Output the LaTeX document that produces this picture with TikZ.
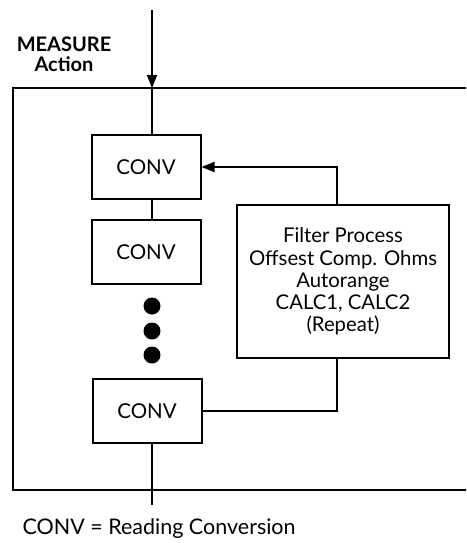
\documentclass[tikz,border=0pt]{standalone}
\usepackage{fontspec}
\setmainfont{Lato}
\usepackage{tikz}
\usetikzlibrary{arrows.meta,positioning,calc}
\tikzstyle{conv} = [draw,line width=2pt,minimum width=109pt,minimum height=64pt,inner sep=0pt,font=\fontsize{20.5}{22}\selectfont]
\tikzstyle{dot} = [fill=black,circle,inner sep=0pt,minimum size=17pt]
\tikzstyle{flow} = [line width=2pt]
\tikzstyle{tip} = [-{Triangle[length=13pt,width=10pt]}]

\begin{document}
\begin{tikzpicture}[x=1pt,y=-1pt]
        \useasboundingbox (0,0) rectangle (466,543);
        \clip (0,0) rectangle (466,543);

        % outer frame (runs off to the right)
        \draw[line width=2.4pt] (476,88) -- (13,88) -- (13,490) -- (476,490);

        \node[conv] (c1) at (146,167) {CONV};
        \node[conv] (c2) at (146,252) {CONV};
        \node[conv] (c3) at (147,411) {CONV};
        \node[draw,line width=2pt,minimum width=212pt,minimum height=153pt,align=center,
              font=\fontsize{20.3}{22.2}\selectfont] (filter) at (343,281.5)
              {Filter Process\\Offsest Comp. Ohms\\Autorange\\CALC1, CALC2\\(Repeat)};

        \node[dot] (d1) at (152,306) {};
        \node[dot] (d2) at (152,331) {};
        \node[dot] (d3) at (152,355) {};

        \coordinate (in) at (152,10);
        \coordinate (top) at (152,88);
        \coordinate (out) at (152,505);
        \coordinate (fb) at ($(filter.north)+(-6,0)$);
        \coordinate (fa) at ($(filter.south)+(-6,0)$);

        \draw[flow,tip] (in) to (top);
        \draw[flow] (top) to (top |- c1.north);
        \draw[flow] (top |- c1.south) to (top |- c2.north);
        \draw[flow] (top |- c3.south) to (out);
        \draw[flow,tip] (fb) |- (c1.east);
        \draw[flow] (c3.east) -| (fa);

        \node[font=\fontsize{20}{20}\selectfont\bfseries,align=center] (act) at (64,54) {MEASURE\\Action};
        \node[anchor=west,font=\fontsize{21.5}{22}\selectfont] (key) at (19,529) {CONV = Reading Conversion};
\end{tikzpicture}
\end{document}
